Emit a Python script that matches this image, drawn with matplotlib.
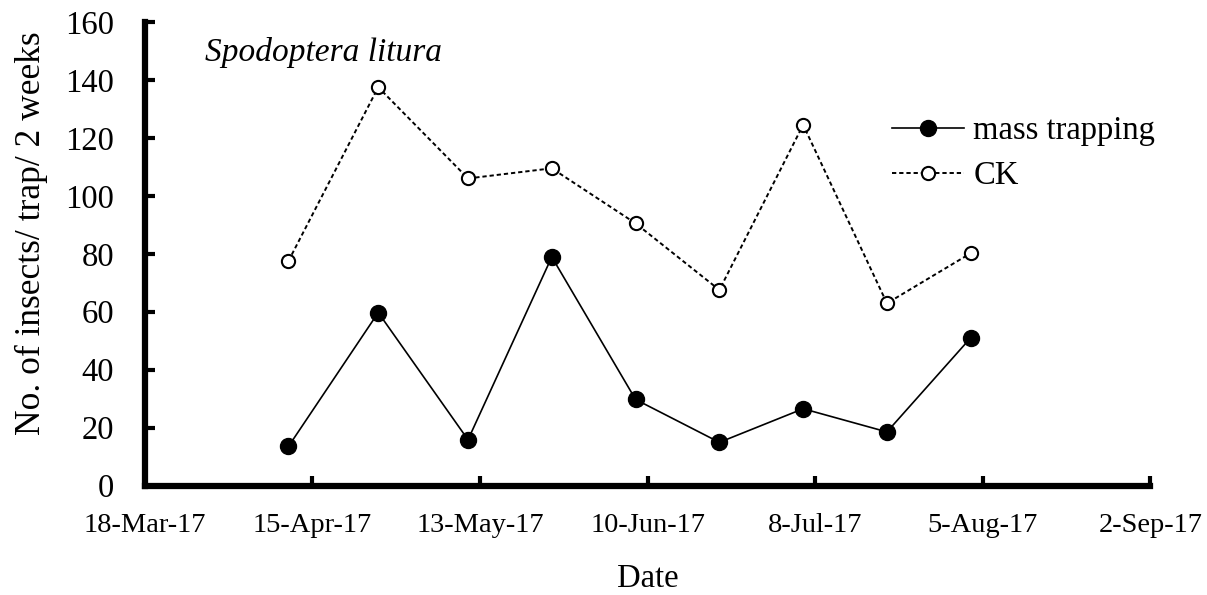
import matplotlib
matplotlib.use('Agg')
import matplotlib.pyplot as plt
import matplotlib.dates as mdates
import pandas as pd

# sampling dates (every ~2 weeks)
dates = ['2017-04-11', '2017-04-26', '2017-05-11', '2017-05-25', '2017-06-08',
         '2017-06-22', '2017-07-06', '2017-07-20', '2017-08-03']
mass_trapping = [13.5, 59.7, 15.8, 78.9, 29.7, 14.9, 26.5, 18.5, 51.0]
ck = [77.5, 137.5, 106.0, 109.5, 90.5, 67.5, 124.5, 62.9, 80.2]

x_tick_labels = ['18-Mar-17', '15-Apr-17', '13-May-17', '10-Jun-17',
                 '8-Jul-17', '5-Aug-17', '2-Sep-17']
y_ticks = [0, 20, 40, 60, 80, 100, 120, 140, 160]

plt.rcParams['font.family'] = ['Liberation Serif', 'DejaVu Serif']

x = pd.to_datetime(dates)
x_ticks = pd.to_datetime(x_tick_labels, format='%d-%b-%y')

fig = plt.figure(figsize=(12.07, 5.95), dpi=100)
ax = fig.add_axes([0.120, 0.184, 0.833, 0.779])

ax.plot(x, mass_trapping, color='black', linewidth=1.2, marker='o',
        markersize=11.5, markerfacecolor='black', label='mass trapping')
ax.plot(x, ck, color='black', linewidth=1.4, linestyle=(0, (2.2, 1.5)), marker='o',
        markersize=9.5, markerfacecolor='white', markeredgewidth=1.5, label='CK')

ax.set_xlim(x_ticks[0], x_ticks[-1])
ax.set_ylim(0, 160)
ax.set_xticks(x_ticks)
ax.set_xticklabels(x_tick_labels, fontsize=20.5)
ax.set_yticks(y_ticks)
ax.set_yticklabels([str(v) for v in y_ticks], fontsize=23.5)

for side in ['top', 'right']:
    ax.spines[side].set_visible(False)
for side in ['left', 'bottom']:
    ax.spines[side].set_linewidth(4.5)
ax.tick_params(axis='both', direction='in', length=7, width=3, color='black')
ax.tick_params(axis='x', pad=20)
ax.tick_params(axis='y', pad=22)

ax.set_ylabel('No. of insects/ trap/ 2 weeks', fontsize=25.5)
ax.yaxis.set_label_coords(-0.0965, 0.545)
ax.set_xlabel('Date', fontsize=23.5, labelpad=18)

ax.text(0.06, 0.935, 'Spodoptera litura', transform=ax.transAxes, fontsize=24,
        style='italic', va='center', ha='left')

ax.legend(loc='upper left', bbox_to_anchor=(0.73, 0.826), frameon=False,
          fontsize=23.5, handlelength=2.2, handletextpad=0.3, labelspacing=0.45,
          borderaxespad=0)

fig.savefig('out.png', dpi=100)
